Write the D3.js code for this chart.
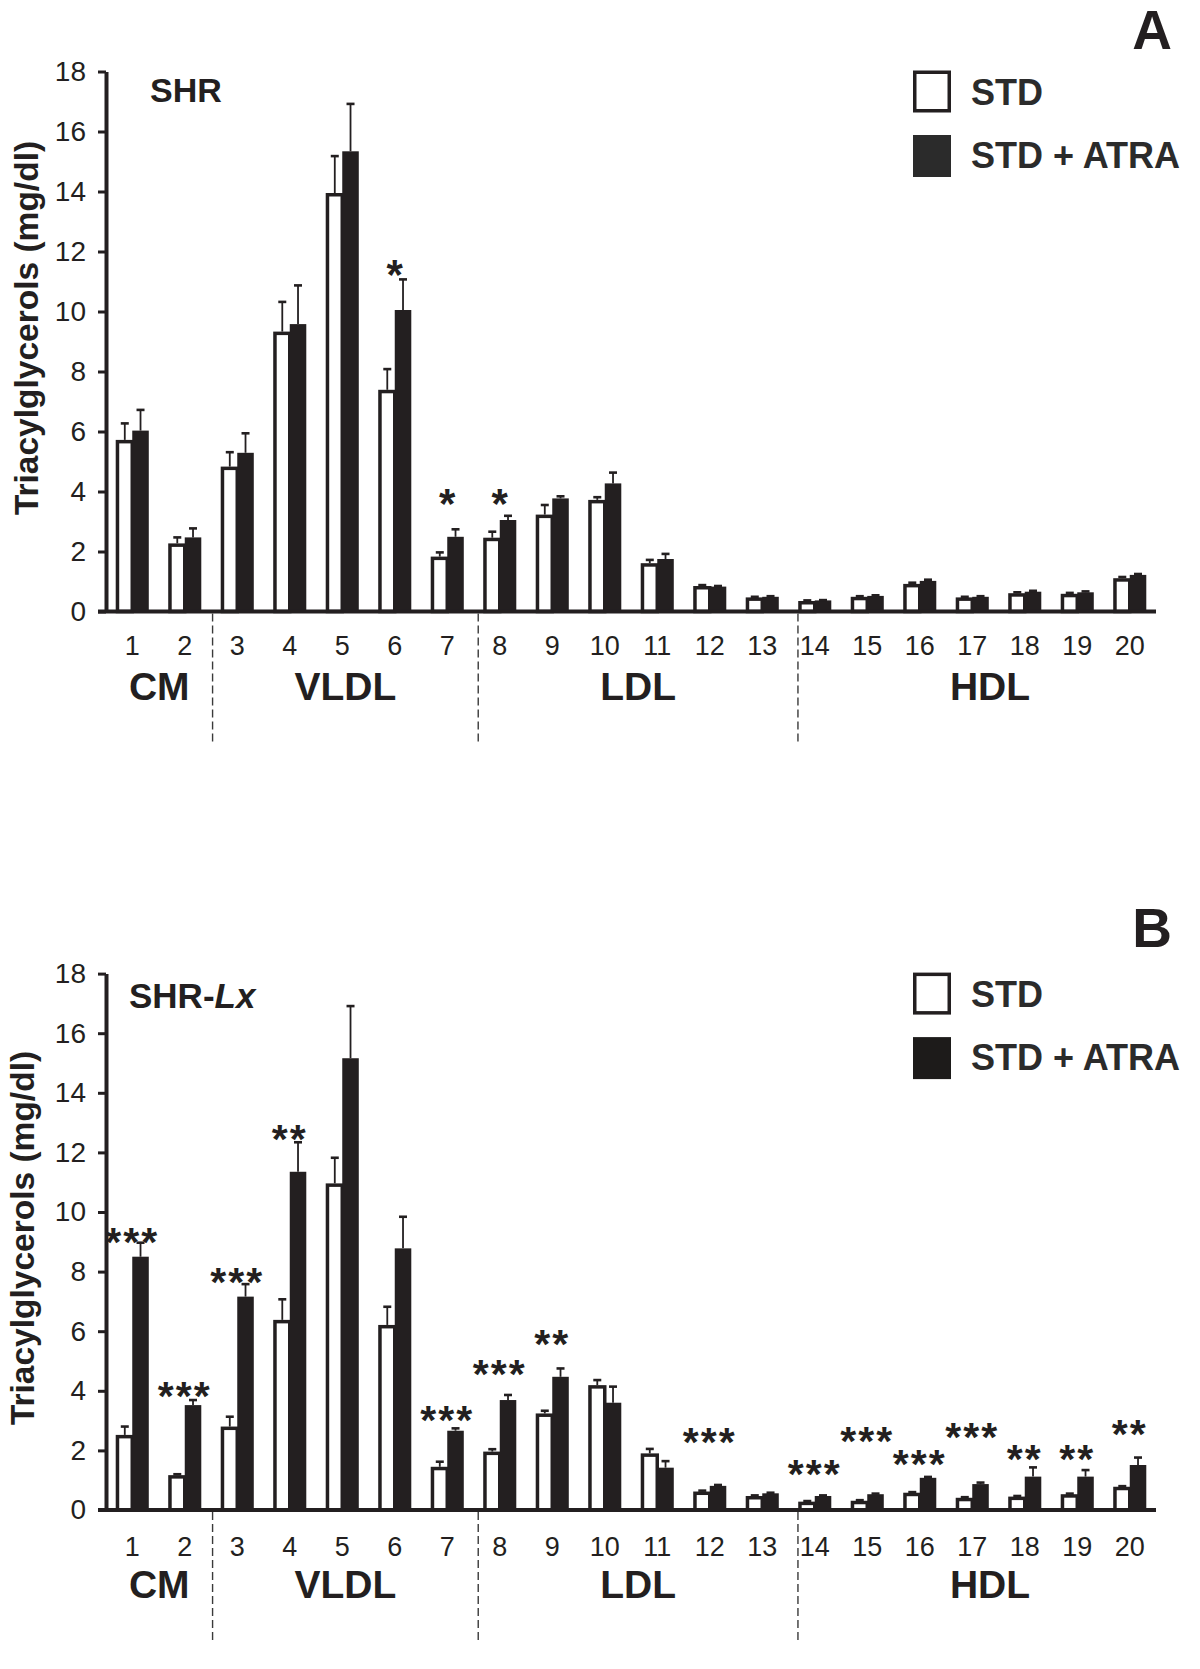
<!DOCTYPE html>
<html>
<head>
<meta charset="utf-8">
<script src="https://cdnjs.cloudflare.com/ajax/libs/d3/7.8.5/d3.min.js"></script>
<style>
  body { margin: 0; background: #fff; }
  text { font-family: "Liberation Sans", Arial, sans-serif; fill: #231f20; }
</style>
</head>
<body>
<div id="chart"></div>
<script>
// fractions (tick labels on the x axis)
const fractions = ["1","2","3","4","5","6","7","8","9","10","11","12","13","14","15","16","17","18","19","20"]
const groups = ["CM", "VLDL", "LDL", "HDL"]
const yTicks = [0, 2, 4, 6, 8, 10, 12, 14, 16, 18]
const seriesNames = ["STD", "STD + ATRA"]

// panel A - SHR
const shrStd = [5.72, 2.27, 4.83, 9.33, 13.95, 7.39, 1.83, 2.46, 3.23, 3.72, 1.61, 0.85, 0.47, 0.35, 0.49, 0.92, 0.47, 0.61, 0.59, 1.11]
const shrStdErr = [0.55, 0.20, 0.48, 0.99, 1.23, 0.69, 0.14, 0.20, 0.32, 0.09, 0.11, 0.03, 0.02, 0.02, 0.02, 0.04, 0.02, 0.03, 0.03, 0.04]
const shrAtra = [6.03, 2.47, 5.29, 9.58, 15.34, 10.05, 2.49, 3.05, 3.77, 4.27, 1.75, 0.83, 0.49, 0.37, 0.52, 1.02, 0.49, 0.66, 0.64, 1.22]
const shrAtraErr = [0.69, 0.30, 0.65, 1.29, 1.58, 1.02, 0.25, 0.14, 0.07, 0.36, 0.17, 0.02, 0.02, 0.01, 0.02, 0.04, 0.02, 0.03, 0.03, 0.03]
const shrSig = [
    { fraction: "6", at: 11.6, mark: "*" },
    { fraction: "7", at: 3.95, mark: "*" },
    { fraction: "8", at: 3.95, mark: "*" }
]

// panel B - SHR-Lx
const lxStd = [2.52, 1.17, 2.80, 6.38, 10.96, 6.21, 1.45, 1.96, 3.24, 4.19, 1.90, 0.62, 0.47, 0.28, 0.31, 0.58, 0.41, 0.45, 0.53, 0.78]
const lxStdErr = [0.28, 0.03, 0.33, 0.69, 0.86, 0.61, 0.17, 0.08, 0.09, 0.17, 0.15, 0.03, 0.02, 0.02, 0.02, 0.02, 0.02, 0.02, 0.02, 0.02]
const lxAtra = [8.50, 3.52, 7.16, 11.35, 15.16, 8.78, 2.66, 3.69, 4.47, 3.60, 1.42, 0.81, 0.56, 0.47, 0.53, 1.08, 0.87, 1.12, 1.12, 1.51]
const lxAtraErr = [0.47, 0.17, 0.42, 0.99, 1.75, 1.06, 0.08, 0.17, 0.28, 0.54, 0.22, 0.03, 0.02, 0.02, 0.02, 0.03, 0.05, 0.31, 0.22, 0.25]
const lxSig = [
    { fraction: "1", at: 9.34, mark: "***" },
    { fraction: "2", at: 4.19, mark: "***" },
    { fraction: "3", at: 8.0, mark: "***" },
    { fraction: "4", at: 12.81, mark: "**" },
    { fraction: "7", at: 3.38, mark: "***" },
    { fraction: "8", at: 4.92, mark: "***" },
    { fraction: "9", at: 5.93, mark: "**" },
    { fraction: "12", at: 2.63, mark: "***" },
    { fraction: "14", at: 1.57, mark: "***" },
    { fraction: "15", at: 2.68, mark: "***" },
    { fraction: "16", at: 1.90, mark: "***" },
    { fraction: "17", at: 2.80, mark: "***" },
    { fraction: "18", at: 2.07, mark: "**" },
    { fraction: "19", at: 2.07, mark: "**" },
    { fraction: "20", at: 2.91, mark: "**" }
]

const ink = "#231f20"
const W = 1200, H = 1669
const left = 106, right = 1156

const svg = d3.select("#chart").append("svg")
    .attr("width", W)
    .attr("height", H)

const x = d3.scaleBand()
    .domain(fractions)
    .range([left, right])
    .paddingInner(0.37)
    .paddingOuter(0.185)

const x1 = d3.scaleBand()
    .domain(seriesNames)
    .range([0, x.bandwidth()])

// dashed separators, in band steps from the left axis
const dividers = [2.03, 7.09, 13.18]

function drawPanel(cfg) {
    const y = d3.scaleLinear().domain([0, 18]).range([cfg.bottom, cfg.top])
    const g = svg.append("g")
    const step = x.step()

    const rows = fractions.map((f, i) => ({
        f: f,
        std: cfg.std[i], stdErr: cfg.stdErr[i],
        atra: cfg.atra[i], atraErr: cfg.atraErr[i]
    }))

    const bw = x1.bandwidth()
    const sw = 3.5

    // white bars
    g.selectAll("rect.std").data(rows).enter().append("rect")
        .attr("class", "std")
        .attr("x", d => x(d.f) + x1("STD") + sw / 2)
        .attr("y", d => y(d.std) + sw / 2)
        .attr("width", bw - sw / 2)
        .attr("height", d => Math.max(0, y(0) - y(d.std) - sw / 2))
        .style("fill", "#fff")
        .style("stroke", ink)
        .style("stroke-width", sw)

    // black bars, drawn on top so the white stroke tucks under
    g.selectAll("rect.atra").data(rows).enter().append("rect")
        .attr("class", "atra")
        .attr("x", d => x(d.f) + x1("STD + ATRA"))
        .attr("y", d => y(d.atra))
        .attr("width", bw)
        .attr("height", d => y(0) - y(d.atra))
        .style("fill", ink)

    // error bars
    const errs = []
    rows.forEach(d => {
        errs.push({ cx: x(d.f) + x1("STD") + bw / 2 + 0.8, v: d.std, e: d.stdErr })
        errs.push({ cx: x(d.f) + x1("STD + ATRA") + bw / 2, v: d.atra, e: d.atraErr })
    })
    g.selectAll("line.err").data(errs).enter().append("line")
        .attr("class", "err")
        .attr("x1", d => d.cx).attr("x2", d => d.cx)
        .attr("y1", d => y(d.v)).attr("y2", d => y(d.v + d.e))
        .style("stroke", ink).style("stroke-width", 1.8)
    g.selectAll("line.cap").data(errs).enter().append("line")
        .attr("class", "cap")
        .attr("x1", d => d.cx - 4).attr("x2", d => d.cx + 4)
        .attr("y1", d => y(d.v + d.e)).attr("y2", d => y(d.v + d.e))
        .style("stroke", ink).style("stroke-width", 2.6)

    // significance marks
    g.selectAll("text.sig").data(cfg.sig).enter().append("text")
        .attr("class", "sig")
        .attr("x", d => x(d.fraction) + x.bandwidth() / 2)
        .attr("y", d => y(d.at) + cfg.sigSize * 0.6)
        .attr("text-anchor", "middle")
        .style("font-size", cfg.sigSize + "px")
        .style("font-weight", cfg.sigWeight)
        .style("letter-spacing", cfg.sigSpacing + "px")
        .text(d => d.mark)

    // y axis
    const yAxis = d3.axisLeft(y).tickValues(yTicks).tickSize(8).tickSizeOuter(0).tickPadding(12)
    const ya = g.append("g").attr("transform", "translate(" + left + ",0)").call(yAxis)
    ya.select(".domain").style("stroke", ink).style("stroke-width", 4)
    ya.selectAll(".tick line").style("stroke", ink).style("stroke-width", 3)
    ya.selectAll(".tick text")
        .style("font-size", "28px")
        .style("font-family", "'Liberation Sans', Arial, sans-serif")
        .style("fill", ink)

    // x axis baseline
    g.append("line")
        .attr("x1", left - 8).attr("x2", right)
        .attr("y1", y(0)).attr("y2", y(0))
        .style("stroke", ink).style("stroke-width", 4)

    // fraction numbers
    g.selectAll("text.frac").data(fractions).enter().append("text")
        .attr("class", "frac")
        .attr("x", d => x(d) + x.bandwidth() / 2)
        .attr("y", y(0) + cfg.fracDy)
        .attr("text-anchor", "middle")
        .attr("dy", "0.35em")
        .style("font-size", "27px")
        .text(d => d)

    // dashed separators
    const divX = dividers.map(p => left + p * step)
    g.selectAll("line.div").data(divX).enter().append("line")
        .attr("class", "div")
        .attr("x1", d => d).attr("x2", d => d)
        .attr("y1", y(0) + 2).attr("y2", y(0) + 131)
        .style("stroke", "#3a3a3a")
        .style("stroke-width", 1.4)
        .style("stroke-dasharray", "8,4")

    // lipoprotein class labels, centered between separators
    const bounds = [left].concat(divX).concat([right + 26])
    g.selectAll("text.grp").data(groups).enter().append("text")
        .attr("class", "grp")
        .attr("x", (d, i) => (bounds[i] + bounds[i + 1]) / 2)
        .attr("y", y(0) + 88)
        .attr("text-anchor", "middle")
        .style("font-size", "39px")
        .style("font-weight", "bold")
        .text(d => d)

    // y title
    g.append("text")
        .attr("transform", "translate(" + cfg.titleX + "," + cfg.titleY + ") rotate(-90)")
        .attr("text-anchor", "middle")
        .attr("dy", "0.35em")
        .style("font-size", "33.5px")
        .style("font-weight", "bold")
        .text("Triacylglycerols (mg/dl)")

    // strain label
    const strain = g.append("text")
        .attr("x", cfg.strainX)
        .attr("y", cfg.top + cfg.strainDy)
        .style("font-size", cfg.strainSize + "px")
        .style("font-weight", "bold")
    strain.append("tspan").text(cfg.strain[0])
    if (cfg.strain[1]) strain.append("tspan").style("font-style", "italic").text(cfg.strain[1])

    // panel letter
    g.append("text")
        .attr("x", 1172)
        .attr("y", cfg.letterY)
        .attr("text-anchor", "end")
        .style("font-size", "55px")
        .style("font-weight", "bold")
        .text(cfg.letter)

    // legend
    const lg = g.append("g").attr("transform", "translate(913," + cfg.top + ")")
    lg.append("rect")
        .attr("x", 1.75).attr("y", 0.75)
        .attr("width", 34.5).attr("height", 38.5)
        .style("fill", "#fff").style("stroke", ink).style("stroke-width", 3.5)
    lg.append("rect")
        .attr("x", 0).attr("y", 63.5)
        .attr("width", 38).attr("height", 42)
        .style("fill", cfg.legendFill)
    lg.selectAll("text.leg").data(seriesNames).enter().append("text")
        .attr("class", "leg")
        .attr("x", 58)
        .attr("y", (d, i) => 33 + i * 63.5)
        .style("font-size", "36px")
        .style("font-weight", "bold")
        .style("fill", "#2b2b2b")
        .text(d => d)
}

drawPanel({
    top: 71.5, bottom: 611.5,
    std: shrStd, stdErr: shrStdErr, atra: shrAtra, atraErr: shrAtraErr,
    sig: shrSig, sigSize: 42, sigWeight: "bold", sigSpacing: 0,
    fracDy: 34.5,
    titleX: 26, titleY: 328,
    strain: ["SHR"], strainX: 150, strainDy: 30, strainSize: 34,
    letter: "A", letterY: 49,
    legendFill: "#2b2b2b"
})

drawPanel({
    top: 973.6, bottom: 1510,
    std: lxStd, stdErr: lxStdErr, atra: lxAtra, atraErr: lxAtraErr,
    sig: lxSig, sigSize: 41, sigWeight: "bold", sigSpacing: 2,
    fracDy: 37,
    titleX: 22, titleY: 1238,
    strain: ["SHR-", "Lx"], strainX: 129, strainDy: 34, strainSize: 35,
    letter: "B", letterY: 947,
    legendFill: "#1d1b1a"
})
</script>
</body>
</html>
